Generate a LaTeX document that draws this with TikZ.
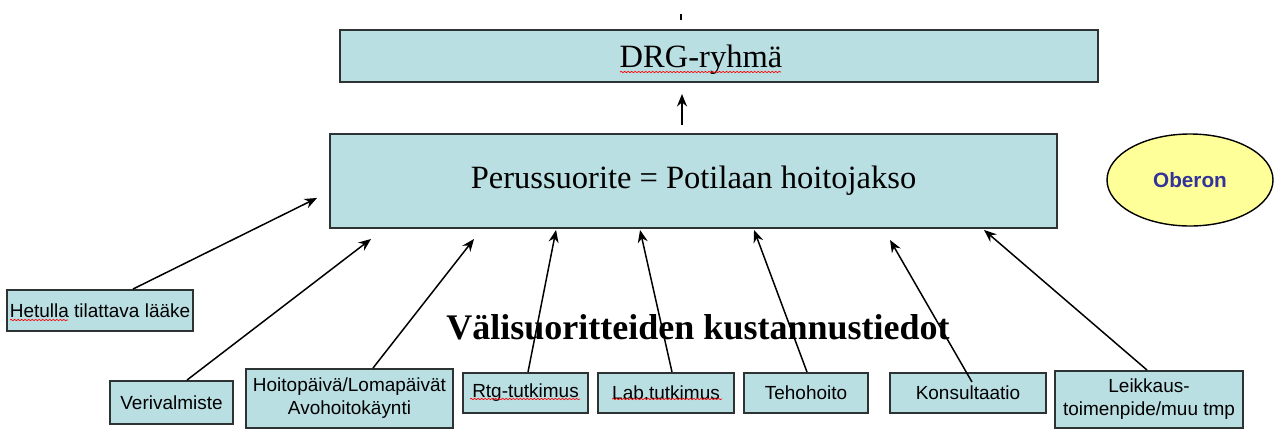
\documentclass[tikz,border=0pt]{standalone}
\usepackage{fontspec}
\setmainfont{Liberation Serif}
\setsansfont{Liberation Sans}
\usepackage{xcolor}
\usepackage{tikz}
\usetikzlibrary{arrows.meta, calc, shapes.geometric, decorations.pathmorphing}

\definecolor{boxblue}{RGB}{186,223,227}
\definecolor{edgegray}{RGB}{45,50,50}
\definecolor{oberonyellow}{RGB}{255,255,153}
\definecolor{oberonblue}{RGB}{51,51,153}

\tikzset{
  bigbox/.style={draw=edgegray, line width=1.1pt, fill=boxblue, inner sep=0pt,
    font=\fontsize{18.5}{22}\selectfont},
  smallbox/.style={draw=edgegray, line width=1.1pt, fill=boxblue, inner sep=0pt,
    align=center, font=\sffamily\fontsize{10.8}{13}\selectfont},
  feed/.style={-{Stealth[length=2.5mm,width=2mm]}, line width=0.85pt},
  spell/.style={red, line width=0.4pt, decorate,
    decoration={snake, amplitude=0.35pt, segment length=2pt}}
}

\begin{document}
\begin{tikzpicture}[x=0.2mm,y=-0.2mm]
\useasboundingbox (0,0) rectangle (1275,429);

\draw[line width=0.8pt] (681,14) -- (681,20);

\node[bigbox, minimum width=758*0.2mm, minimum height=52*0.2mm] (drg) at (719,56) {};
\node[font=\fontsize{18.5}{22}\selectfont] (drgtext) at (701,60) {DRG-ryhmä};
\node[bigbox, minimum width=727*0.2mm, minimum height=94*0.2mm] (perus) at (693.5,181) {Perussuorite = Potilaan hoitojakso};
\node[ellipse, draw=black, line width=0.8pt, fill=oberonyellow, minimum width=166*0.2mm, minimum height=92*0.2mm,
  font=\sffamily\bfseries\fontsize{11.8}{14}\selectfont, text=oberonblue] (oberon) at (1190,180) {Oberon};

\node[anchor=base, font=\bfseries\fontsize{20.5}{24}\selectfont] (vali) at (698,339) {Välisuoritteiden kustannustiedot};

\node[smallbox, minimum width=186*0.2mm, minimum height=41*0.2mm] (hetulla) at (100,310.5) {Hetulla tilattava lääke};
\node[smallbox, minimum width=123*0.2mm, minimum height=43*0.2mm] (veri) at (171.5,402.5) {Verivalmiste};
\node[smallbox, minimum width=207*0.2mm, minimum height=59*0.2mm] (hoito) at (349.5,398.5) {Hoitopäivä/Lomapäivät\\Avohoitokäynti};
\node[smallbox, minimum width=125*0.2mm, minimum height=40*0.2mm] (rtg) at (525.5,393) {Rtg-tutkimus};
\node[smallbox, minimum width=136*0.2mm, minimum height=40*0.2mm] (lab) at (666,393) {Lab.tutkimus};
\node[smallbox, minimum width=124*0.2mm, minimum height=40*0.2mm] (teho) at (806,393) {Tehohoito};
\node[smallbox, minimum width=156*0.2mm, minimum height=40*0.2mm] (konsult) at (968,393) {Konsultaatio};
\node[smallbox, minimum width=188*0.2mm, minimum height=57*0.2mm] (leikkaus) at (1149,399.5) {Leikkaus-\\toimenpide/muu tmp};

% spelling marks
\draw[spell] (620,72) -- (781,72);
\draw[spell] (10,320) -- (68,320);
\draw[spell] (470,399) -- (580,399);
\draw[spell] (612,399) -- (722,399);

\draw[feed] ($(perus.north)+(-11.5,-8)$) -- ($(drg.south)+(-37,11)$);

\draw[feed] ($(hetulla.north)+(33,0)$) -- ($(perus.south west)+(-12,-31)$);
\draw[feed] ($(veri.north)+(15.5,0)$) -- ($(perus.south west)+(42,10)$);
\draw[feed] ($(hoito.north)+(23.5,0)$) -- ($(perus.south west)+(145,10)$);
\draw[feed] ($(rtg.north)+(2.5,0)$) -- ($(perus.south west)+(227,1)$);
\draw[feed] ($(lab.north)+(6,0)$) -- ($(perus.south west)+(311,1)$);
\draw[feed] ($(teho.north)+(1,0)$) -- ($(perus.south west)+(425,1)$);
\draw[feed] ($(konsult.north)+(4,10)$) -- ($(perus.south west)+(561,11)$);
\draw[feed] ($(leikkaus.north)+(-2,0)$) -- ($(perus.south west)+(655,1)$);
\end{tikzpicture}
\end{document}
